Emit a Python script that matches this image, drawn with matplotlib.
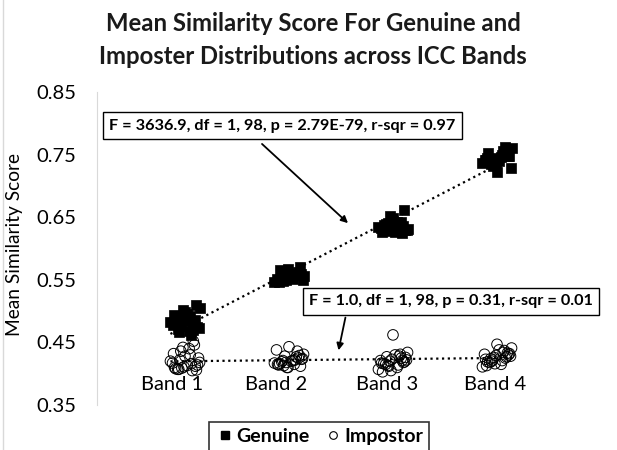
import matplotlib
matplotlib.use("Agg")
import matplotlib.pyplot as plt
from matplotlib.lines import Line2D
import numpy as np

plt.rcParams['font.family'] = ['Lato', 'DejaVu Sans']

bands = ['Band 1', 'Band 2', 'Band 3', 'Band 4']

# x jitter inside each band (typed, same for every band)
jitter = [-0.12, 0.05, -0.06, 0.10, -0.02, 0.13, -0.09, 0.02, 0.08, -0.14, 0.11, -0.04, 0.06,
          -0.10, 0.00, 0.09, -0.07, 0.14, -0.01, 0.04, -0.11, 0.07, -0.05, 0.12, -0.03]

genuine_b1 = [0.478, 0.492, 0.466, 0.485, 0.501, 0.473, 0.488, 0.495, 0.470, 0.482, 0.510, 0.476, 0.462,
              0.489, 0.498, 0.480, 0.471, 0.505, 0.486, 0.468, 0.493, 0.477, 0.483, 0.474, 0.490]
genuine_b2 = [0.552, 0.558, 0.548, 0.561, 0.555, 0.549, 0.566, 0.553, 0.557, 0.547, 0.571, 0.551, 0.559,
              0.546, 0.554, 0.562, 0.550, 0.556, 0.568, 0.552, 0.548, 0.557, 0.553, 0.560, 0.549]
genuine_b3 = [0.632, 0.640, 0.628, 0.636, 0.645, 0.630, 0.638, 0.626, 0.642, 0.634, 0.661, 0.629, 0.637,
              0.633, 0.648, 0.624, 0.639, 0.631, 0.635, 0.643, 0.627, 0.636, 0.641, 0.630, 0.652]
genuine_b4 = [0.742, 0.750, 0.735, 0.758, 0.745, 0.728, 0.752, 0.740, 0.762, 0.737, 0.748, 0.731, 0.755,
              0.744, 0.722, 0.749, 0.739, 0.760, 0.733, 0.746, 0.741, 0.753, 0.736, 0.747, 0.743]

impostor_b1 = [0.409, 0.414, 0.422, 0.405, 0.432, 0.440, 0.411, 0.418, 0.407, 0.446, 0.428, 0.410, 0.416,
               0.436, 0.406, 0.420, 0.452, 0.413, 0.408, 0.425, 0.442, 0.412, 0.407, 0.430, 0.417]
impostor_b2 = [0.418, 0.423, 0.413, 0.427, 0.415, 0.421, 0.410, 0.431, 0.419, 0.425, 0.443, 0.414, 0.422,
               0.428, 0.412, 0.417, 0.436, 0.420, 0.416, 0.424, 0.410, 0.429, 0.421, 0.415, 0.438]
impostor_b3 = [0.420, 0.426, 0.413, 0.431, 0.417, 0.410, 0.423, 0.434, 0.415, 0.421, 0.462, 0.403, 0.428,
               0.412, 0.419, 0.407, 0.425, 0.430, 0.416, 0.422, 0.405, 0.418, 0.427, 0.414, 0.421]
impostor_b4 = [0.426, 0.432, 0.420, 0.437, 0.423, 0.415, 0.429, 0.441, 0.418, 0.427, 0.447, 0.413, 0.434,
               0.422, 0.430, 0.411, 0.425, 0.438, 0.419, 0.428, 0.416, 0.433, 0.424, 0.421, 0.431]

genuine_stats = 'F = 3636.9, df = 1, 98, p = 2.79E-79, r-sqr = 0.97'
impostor_stats = 'F = 1.0, df = 1, 98, p = 0.31, r-sqr = 0.01'

genuine = [genuine_b1, genuine_b2, genuine_b3, genuine_b4]
impostor = [impostor_b1, impostor_b2, impostor_b3, impostor_b4]

gx = np.concatenate([np.array(jitter) + i + 1 for i in range(4)])
ix = np.concatenate([np.array(jitter[::-1]) + i + 1 for i in range(4)])
gy = np.concatenate(genuine)
iy = np.concatenate(impostor)

fig = plt.figure(figsize=(6.17, 4.5), dpi=100)
ax = fig.add_axes([97/617, 1-405/450, (601-97)/617, (405-92)/450])

ax.scatter(gx, gy, marker='s', s=44, c='black', edgecolors='black', linewidths=0.5, zorder=3)
ax.scatter(ix, iy, marker='o', s=58, facecolors='none', edgecolors='black', linewidths=0.7, zorder=4)

for xs, ys in [(gx, gy), (ix, iy)]:
    k, b = np.polyfit(xs, ys, 1)
    xx = np.array([xs.min(), xs.max()])
    ax.plot(xx, k*xx + b, color='black', linestyle=(0, (1, 1.6)), linewidth=1.6, zorder=2)

ax.set_xlim(0.154, 5.0)
ax.set_ylim(0.35, 0.85)
ax.set_yticks([0.35, 0.45, 0.55, 0.65, 0.75, 0.85])
ax.set_yticklabels(['0.35', '0.45', '0.55', '0.65', '0.75', '0.85'])
ax.tick_params(axis='y', length=0, pad=15, labelsize=14.5)
ax.set_xticks([])
for s in ['top', 'right', 'bottom']:
    ax.spines[s].set_visible(False)
ax.spines['left'].set_color('#d9d9d9')

# band labels sit inside the plot area, just above the bottom
label_x = [0.88, 1.88, 2.94, 3.98]
for lx, name in zip(label_x, bands):
    ax.text(lx, 0.3825, name, ha='center', va='center', fontsize=14.5)

ax.annotate('', xy=(2.587, 0.6375), xytext=(1.721, 0.770),
            arrowprops=dict(arrowstyle='-|>', color='black', lw=1.3, mutation_scale=10))
ax.annotate('', xy=(2.471, 0.433), xytext=(2.548, 0.494),
            arrowprops=dict(arrowstyle='-|>', color='black', lw=1.3, mutation_scale=10))

box = dict(boxstyle='square,pad=0.4', facecolor='white', edgecolor='black', linewidth=1)
ax.text(1.9375, 0.7957, genuine_stats, ha='center', va='center', fontsize=11.7,
        fontweight='bold', bbox=box, zorder=6)
ax.text(3.558, 0.516, impostor_stats, ha='center', va='center', fontsize=11.7,
        fontweight='bold', bbox=box, zorder=6)

fig.text(313/617, 1-40/450, 'Mean Similarity Score For Genuine and\nImposter Distributions across ICC Bands',
         ha='center', va='center', fontsize=17.2, fontweight='bold', color='#1a1a1a', linespacing=1.5)
fig.text(15/617, 1-245/450, 'Mean Similarity Score', rotation=90, ha='center', va='center', fontsize=13.8)

handles = [Line2D([], [], marker='s', color='black', linestyle='none', markersize=5.5),
           Line2D([], [], marker='o', markerfacecolor='white', markeredgecolor='black',
                  linestyle='none', markersize=5.5, markeredgewidth=0.8)]
leg = fig.legend(handles, ['Genuine', 'Impostor'], loc='upper left', bbox_to_anchor=(209/617, 1-422/450),
                 ncol=2, frameon=True, fancybox=False, handletextpad=0.1, columnspacing=0.7,
                 handlelength=1.0, borderpad=0.3, borderaxespad=0,
                 prop={'weight': 'bold', 'size': 14})
leg.get_frame().set_edgecolor('black')
leg.get_frame().set_linewidth(1.2)

fig.add_artist(Line2D([2.5/617, 2.5/617], [0, 1], color='#d9d9d9', linewidth=1))

fig.savefig('out.png', dpi=100)
